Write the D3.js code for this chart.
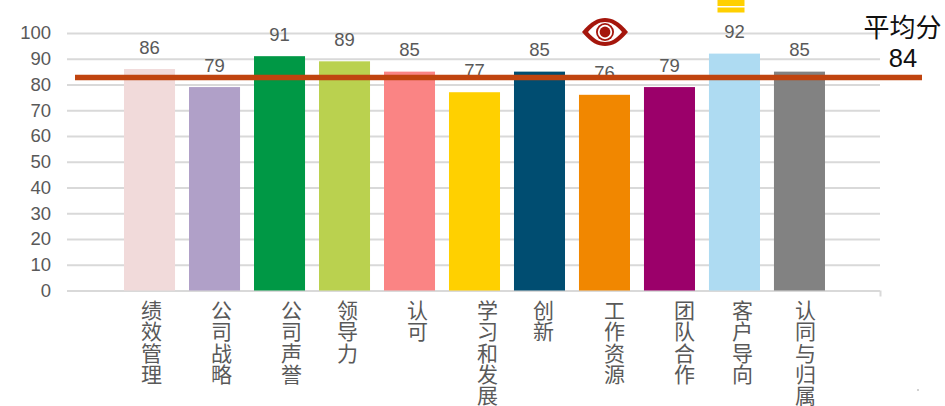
<!DOCTYPE html>
<html lang="zh">
<head>
  <meta charset="UTF-8">
  <title>平均分</title>
  <script src="https://cdn.jsdelivr.net/npm/d3@7/dist/d3.min.js"></script>
<style>
html, body { margin: 0; padding: 0; background: #fff; overflow: hidden; }
svg { display: block; }
.ejeY text { font-family: "Liberation Sans", Arial, sans-serif; font-size: 18.5px; fill: #595959; }
.ejeY .domain { display: none; }
.ejeY line { stroke: #d9d9d9; stroke-width: 2; }
.valor { font-family: "Liberation Sans", Arial, sans-serif; font-size: 18.5px; fill: #595959; text-anchor: middle; }
.categoria { font-family: "Noto Sans CJK SC", sans-serif; font-size: 21px; fill: #595959; text-anchor: middle; }
.promedio { font-family: "Noto Sans CJK SC", sans-serif; font-size: 26px; fill: #111; text-anchor: middle; }
.promedioNum { font-family: "Liberation Sans", Arial, sans-serif; font-size: 25.5px; fill: #111; text-anchor: middle; }
</style>
</head>
<body>
  <div id="grafico"></div>

  <script>
    var categorias = ['绩效管理', '公司战略', '公司声誉', '领导力', '认可', '学习和发展', '创新', '工作资源', '团队合作', '客户导向', '认同与归属'];
    var valores = [86, 79, 91, 89, 85, 77, 85, 76, 79, 92, 85];
    var colores = ['#f1dada', '#b0a0c8', '#009845', '#bad14f', '#fa8484', '#ffd000', '#004d71', '#f18700', '#9b006a', '#aedbf2', '#828282'];
    var ticksY = [0, 10, 20, 30, 40, 50, 60, 70, 80, 90, 100];
    var lineaPromedio = [82.7];
    var textoPromedio = ['平均分', '84'];

    // the category labels sit off-centre in the original
    var desvioEtiqueta = [2, 7, 12, 3, 8, 13, 4, 10, 15, 8, 6];

    var w = 945;
    var h = 406;

    var grafico = d3.select("#grafico")
      .append("svg")
      .attr("width", w)
      .attr("height", h);

    var xScale = d3.scaleBand()
      .domain(categorias)
      .range([117, 832])
      .paddingInner(0.215)
      .paddingOuter(0.108);

    var yScale = d3.scaleLinear()
      .domain([0, 100])
      .range([290.5, 33]);

    // Ejes
    var ejeY = d3.axisLeft(yScale)
      .tickValues(ticksY)
      .tickSize(-813)
      .tickPadding(16);

    grafico.append("g")
      .attr("class", "ejeY")
      .attr("transform", "translate(67,0)")
      .call(ejeY);

    grafico.append("path")
      .attr("d", "M880.5," + yScale(0) + "V" + (yScale(0) + 6))
      .attr("stroke", "#d9d9d9")
      .attr("stroke-width", 2)
      .attr("fill", "none");

    // Barras
    grafico.selectAll(".barra")
      .data(valores)
      .enter()
      .append("rect")
      .attr("class", "barra")
      .attr("x", function(d, i) { return xScale(categorias[i]); })
      .attr("y", function(d) { return yScale(d); })
      .attr("width", xScale.bandwidth())
      .attr("height", function(d) { return yScale(0) - yScale(d); })
      .attr("fill", function(d, i) { return colores[i]; });

    grafico.selectAll(".valor")
      .data(valores)
      .enter()
      .append("text")
      .attr("class", "valor")
      .attr("x", function(d, i) { return xScale(categorias[i]) + xScale.bandwidth() / 2; })
      .attr("y", function(d) { return yScale(d) - 15.5; })
      .text(function(d) { return d; });

    // Etiquetas verticales, un caracter por linea
    categorias.forEach(function(c, i) {
      var cx = xScale(c) + xScale.bandwidth() / 2 + desvioEtiqueta[i];
      c.split('').forEach(function(letra, j) {
        grafico.append("text")
          .attr("class", "categoria")
          .attr("x", cx)
          .attr("y", 318 + j * 21.3)
          .text(letra);
      });
    });

    // Linea del promedio
    grafico.append("line")
      .attr("x1", 75)
      .attr("x2", 922)
      .attr("y1", yScale(lineaPromedio[0]))
      .attr("y2", yScale(lineaPromedio[0]))
      .attr("stroke", "#c0440f")
      .attr("stroke-width", 5.5);

    grafico.append("text")
      .attr("class", "promedio")
      .attr("x", 902.5)
      .attr("y", 37)
      .text(textoPromedio[0]);

    grafico.append("text")
      .attr("class", "promedioNum")
      .attr("x", 903)
      .attr("y", 67)
      .text(textoPromedio[1]);

    // Ojo
    var ojo = grafico.append("g").attr("transform", "translate(605,32)");
    ojo.append("path")
      .attr("d", "M-23,0C-14,-11 -7,-14 0,-14C7,-14 14,-11 23,0C14,11 7,14 0,14C-7,14 -14,11 -23,0Z")
      .attr("fill", "#a5160c");
    ojo.append("path")
      .attr("d", "M-17,0C-11,-7 -6,-10 0,-10C6,-10 11,-7 17,0C11,7 6,10 0,10C-6,10 -11,7 -17,0Z")
      .attr("fill", "#fff");
    ojo.append("circle").attr("r", 9).attr("fill", "#a5160c");
    ojo.append("circle").attr("r", 7.2).attr("fill", "#fff");
    ojo.append("circle").attr("r", 5.4).attr("fill", "#a5160c");

    // Icono amarillo cortado arriba
    grafico.append("rect").attr("x", 717.5).attr("y", 0).attr("width", 27).attr("height", 6).attr("fill", "#ffd000");
    grafico.append("rect").attr("x", 717.5).attr("y", 7.5).attr("width", 27).attr("height", 5).attr("fill", "#ffd000");

    grafico.append("circle").attr("cx", 918).attr("cy", 390).attr("r", 0.8).attr("fill", "#999");
  </script>
</body>
</html>
